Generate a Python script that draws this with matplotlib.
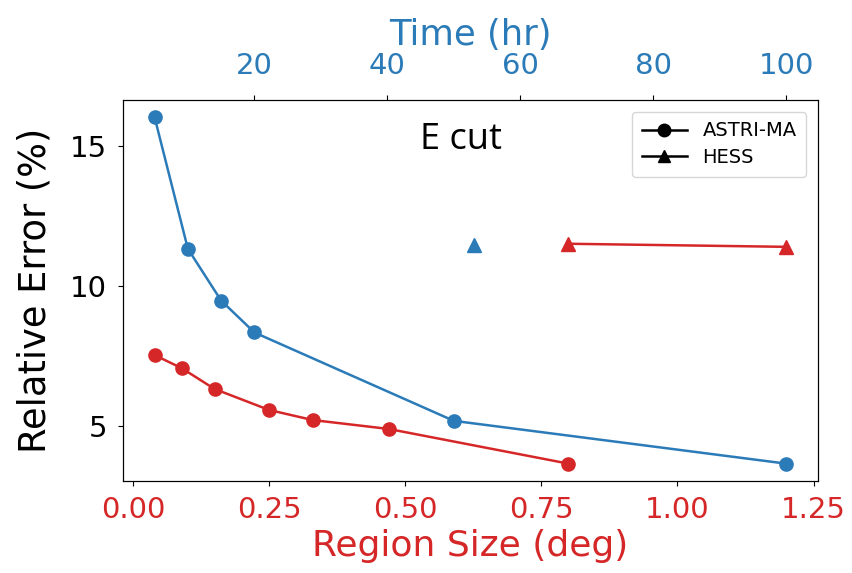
import matplotlib
matplotlib.use("Agg")
import matplotlib.pyplot as plt
from matplotlib.lines import Line2D

# ASTRI-MA vs region size (red, bottom axis)
region_size = [0.04, 0.09, 0.15, 0.25, 0.33, 0.47, 0.80]
region_err = [7.53, 7.06, 6.32, 5.57, 5.21, 4.89, 3.65]
# HESS vs region size (red triangles)
hess_region_size = [0.80, 1.20]
hess_region_err = [11.51, 11.40]
# ASTRI-MA vs time (blue, top axis)
time_hr = [5, 10, 15, 20, 50, 100]
time_err = [16.03, 11.33, 9.48, 8.34, 5.18, 3.65]
# HESS vs time (blue triangle)
hess_time = [53]
hess_time_err = [11.48]

bottom_ticks = [0.00, 0.25, 0.50, 0.75, 1.00, 1.25]
top_ticks = [20, 40, 60, 80, 100]
y_ticks = [5, 10, 15]

red = "#d62728"
blue = "#2b7bb9"

fig = plt.figure(figsize=(8.52, 5.73), dpi=100)
ax = fig.add_axes([0.1444, 0.1606, 0.8156, 0.6649])
ax.plot(region_size, region_err, "-o", color=red, lw=1.8, ms=9.5)
ax.plot(hess_region_size, hess_region_err, "-^", color=red, lw=1.8, ms=9.5)
ax.set_xlabel("Region Size (deg)", color=red, fontsize=26, labelpad=4)
ax.set_ylabel("Relative Error (%)", fontsize=26.5, labelpad=12)
ax.set_xticks(bottom_ticks)
ax.tick_params(axis="x", labelcolor=red, labelsize=21, pad=7)
ax.tick_params(axis="y", labelsize=21, pad=8)
ax.set_yticks(y_ticks)

ax2 = ax.twiny()
ax2.plot(time_hr, time_err, "-o", color=blue, lw=1.8, ms=9.5)
ax2.plot(hess_time, hess_time_err, "^", color=blue, ms=9.5)
ax2.set_xlabel("Time (hr)", color=blue, fontsize=25.5, labelpad=5)
ax2.tick_params(axis="x", labelcolor=blue, labelsize=21, pad=11)
ax2.set_xticks(top_ticks)

ax.text(0.486, 0.895, "E cut", transform=ax.transAxes, ha="center", va="center",
        fontsize=26, family="Open Sans")

handles = [Line2D([], [], color="black", marker="o", lw=1.8, ms=9),
           Line2D([], [], color="black", marker="^", lw=1.8, ms=9)]
ax.legend(handles, ["ASTRI-MA", "HESS"], loc="upper right", fontsize=14,
          borderpad=0.5, handlelength=2.3, borderaxespad=0.6, labelspacing=0.4)

fig.savefig("out.png", dpi=100)
